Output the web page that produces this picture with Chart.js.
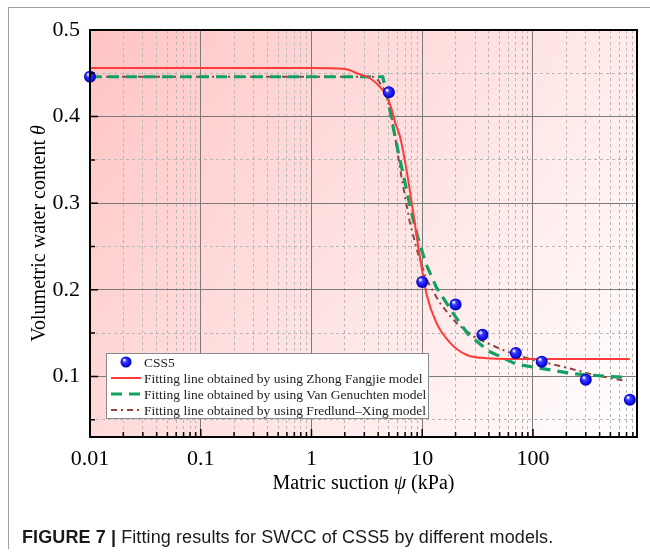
<!DOCTYPE html>
<html><head><meta charset="utf-8">
<script src="https://cdn.jsdelivr.net/npm/chart.js@4"></script>
<style>
html,body{margin:0;padding:0;background:#fff;}
#wrap{position:relative;width:650px;height:556px;overflow:hidden;}
canvas{position:absolute;left:0;top:0;}
#cap{position:absolute;left:22px;top:527px;font-family:"Liberation Sans",Arial,sans-serif;font-size:18px;letter-spacing:0.1px;color:#1a1a1a;white-space:nowrap;}
#frameL{position:absolute;left:8px;top:7px;width:1px;height:542px;background:#a0a0a0;}
#frameT{position:absolute;left:8px;top:7px;width:642px;height:1px;background:#a0a0a0;}
</style></head>
<body><div id="wrap"><canvas id="c" width="650" height="556"></canvas>
<div id="frameL"></div><div id="frameT"></div>
<div id="cap"><b>FIGURE 7 |</b> Fitting results for SWCC of CSS5 by different models.</div></div>
<script>
// ---- data ----
const suctionMeasured = [0.01, 5, 10, 20, 35, 70, 120, 300, 750];
const thetaMeasured   = [0.446, 0.428, 0.209, 0.183, 0.148, 0.127, 0.117, 0.096, 0.073];

const zhongX = [0.01, 1, 2, 2.7, 3.4, 4.1, 4.8, 5.3, 5.7, 6.3, 7.2, 8.3, 9.5, 11, 13.4, 17.8, 25, 38, 100, 750];
const zhongY = [0.456, 0.456, 0.455, 0.449, 0.444, 0.435, 0.423, 0.408, 0.393, 0.377, 0.339, 0.289, 0.239, 0.194, 0.162, 0.139, 0.125, 0.121, 0.120, 0.120];

const vgX = [0.01, 4.4, 4.9, 5.5, 6.1, 7.0, 7.9, 9.1, 10.8, 13.4, 18.5, 25.8, 40, 71, 151, 233, 471, 650];
const vgY = [0.446, 0.446, 0.420, 0.386, 0.358, 0.3235, 0.292, 0.261, 0.230, 0.203, 0.175, 0.149, 0.129, 0.114, 0.107, 0.103, 0.100, 0.099];

const fxX = [0.01, 3.6, 4.0, 4.6, 5.2, 5.8, 6.5, 7.7, 9, 10.9, 14.4, 17.8, 21, 30, 50, 70, 94, 175, 350, 700];
const fxY = [0.446, 0.446, 0.442, 0.430, 0.405, 0.370, 0.330, 0.279, 0.245, 0.212, 0.185, 0.170, 0.160, 0.145, 0.132, 0.125, 0.120, 0.112, 0.102, 0.0945];

const seriesLabels = ['CSS5',
  'Fitting line obtained by using Zhong Fangjie model',
  'Fitting line obtained by using Van Genuchten model',
  'Fitting line obtained by using Fredlund\u2013Xing model'];

const xTickValues = [0.01, 0.1, 1, 10, 100];
const xTickLabels = ['0.01', '0.1', '1', '10', '100'];
const yTickValues = [0.1, 0.2, 0.3, 0.4, 0.5];
const yTickLabels = ['0.1', '0.2', '0.3', '0.4', '0.5'];
const yMinorValues = [0.05, 0.15, 0.25, 0.35, 0.45];
const xMin = 0.01, xMax = 870, yMin = 0.03, yMax = 0.5;

// minor log positions (2..9 per decade)
const xMinorValues = [];
xTickValues.forEach(d => { for (let k = 2; k <= 9; k++) { const v = d * k; if (v <= xMax) xMinorValues.push(+v.toPrecision(3)); } });

const toXY = (xs, ys) => xs.map((x, i) => ({x: x, y: ys[i]}));
const SERIF = '"Liberation Serif","Times New Roman",serif';

function sphereGrad(c2d, px, py, r) {
  const g = c2d.createRadialGradient(px - r*0.35, py - r*0.4, r*0.1, px, py, r);
  g.addColorStop(0, '#f0f0ff');
  g.addColorStop(0.3, '#3a3aff');
  g.addColorStop(0.8, '#0a0ae0');
  g.addColorStop(1, '#00009a');
  return g;
}

const bgPlugin = {
  id: 'bg',
  beforeDraw(chart) {
    const {ctx, chartArea: a} = chart;
    const g = ctx.createLinearGradient(a.left, a.top, a.right, a.bottom);
    g.addColorStop(0, '#ffc4c4');
    g.addColorStop(0.5, '#ffe2e2');
    g.addColorStop(1, '#ffffff');
    ctx.save(); ctx.fillStyle = g;
    ctx.fillRect(a.left, a.top, a.right - a.left, a.bottom - a.top);
    ctx.restore();
  }
};

function drawSegments(ctx, segs, cx, cy) {
  let total = 0;
  segs.forEach(s => { ctx.font = s[1]; total += ctx.measureText(s[0]).width; });
  let x = cx - total / 2;
  segs.forEach(s => { ctx.font = s[1]; ctx.fillText(s[0], x, cy); x += ctx.measureText(s[0]).width; });
}

const decoPlugin = {
  id: 'deco',
  afterDraw(chart) {
    const {ctx, chartArea: a, scales} = chart;
    ctx.save();
    // inward ticks
    ctx.strokeStyle = '#000'; ctx.lineWidth = 1.5;
    ctx.beginPath();
    xTickValues.forEach(v => { const p = scales.x.getPixelForValue(v); ctx.moveTo(p, a.bottom); ctx.lineTo(p, a.bottom - 8); });
    xMinorValues.forEach(v => { const p = scales.x.getPixelForValue(v); ctx.moveTo(p, a.bottom); ctx.lineTo(p, a.bottom - 5); });
    yTickValues.forEach(v => { const p = scales.y.getPixelForValue(v); ctx.moveTo(a.left, p); ctx.lineTo(a.left + 8, p); });
    yMinorValues.forEach(v => { const p = scales.y.getPixelForValue(v); ctx.moveTo(a.left, p); ctx.lineTo(a.left + 5, p); });
    ctx.stroke();
    // frame
    ctx.lineWidth = 2;
    ctx.strokeRect(a.left, a.top, a.right - a.left, a.bottom - a.top);

    // axis titles
    ctx.fillStyle = '#000';
    ctx.textBaseline = 'alphabetic';
    drawSegments(ctx, [['Matric suction ', '20px ' + SERIF], ['\u03C8', 'italic 20px ' + SERIF], [' (kPa)', '20px ' + SERIF]], (a.left + a.right) / 2, 489);
    ctx.save();
    ctx.translate(45, (a.top + a.bottom) / 2);
    ctx.rotate(-Math.PI / 2);
    drawSegments(ctx, [['Volumetric water content ', '20px ' + SERIF], ['\u03B8', 'italic 20px ' + SERIF]], 0, 0);
    ctx.restore();

    // legend
    const L = {x: 106, y: 353, w: 322, h: 65};
    ctx.fillStyle = '#fff';
    ctx.fillRect(L.x, L.y, L.w, L.h);
    ctx.strokeStyle = '#8a8a8a'; ctx.lineWidth = 1;
    ctx.strokeRect(L.x + 0.5, L.y + 0.5, L.w, L.h);
    ctx.font = '13.5px ' + SERIF;
    ctx.textBaseline = 'middle';
    chart.data.datasets.forEach((ds, i) => {
      const yy = L.y + 9 + i * 16;
      if (i === 0) {
        ctx.beginPath(); ctx.fillStyle = sphereGrad(ctx, 126, yy, 5.5);
        ctx.arc(126, yy, 5.5, 0, Math.PI * 2); ctx.fill();
      } else {
        ctx.beginPath(); ctx.strokeStyle = ds.borderColor; ctx.lineWidth = ds.borderWidth;
        ctx.setLineDash(ds.borderDash || []);
        ctx.moveTo(111, yy); ctx.lineTo(141, yy); ctx.stroke(); ctx.setLineDash([]);
      }
      ctx.fillStyle = '#222';
      ctx.fillText(ds.label, 144, yy + 1);
    });
    ctx.restore();
  }
};

const chart = new Chart(document.getElementById('c'), {
  type: 'scatter',
  data: {
    datasets: [
      {label: seriesLabels[0], data: toXY(suctionMeasured, thetaMeasured), showLine: false,
       pointRadius: 6, pointBorderWidth: 0, clip: false,
       pointBackgroundColor: (c) => {
         const ch = c.chart;
         if (!c.parsed || !ch.scales || !ch.scales.x || !ch.scales.y) return '#1a1aff';
         const px = ch.scales.x.getPixelForValue(c.parsed.x), py = ch.scales.y.getPixelForValue(c.parsed.y);
         if (!isFinite(px) || !isFinite(py)) return '#1a1aff';
         return sphereGrad(ch.ctx, px, py, 6);
       }},
      {label: seriesLabels[1], data: toXY(zhongX, zhongY), showLine: true, borderColor: '#ff3a3a', borderWidth: 2,
       pointRadius: 0, cubicInterpolationMode: 'monotone'},
      {label: seriesLabels[2], data: toXY(vgX, vgY), showLine: true, borderColor: '#13a063', borderWidth: 3.2,
       borderDash: [11, 7], pointRadius: 0, tension: 0},
      {label: seriesLabels[3], data: toXY(fxX, fxY), showLine: true, borderColor: '#8c4646', borderWidth: 2,
       borderDash: [6, 4, 2, 4], pointRadius: 0, tension: 0}
    ]
  },
  options: {
    responsive: false, animation: false,
    layout: {padding: {top: 30, right: 13, bottom: 0, left: 0}},
    plugins: {legend: {display: false}, tooltip: {enabled: false}},
    scales: {
      xMinor: {type: 'logarithmic', position: 'bottom', min: xMin, max: xMax, z: -1,
        afterBuildTicks: s => { s.ticks = xMinorValues.map(v => ({value: v})); },
        afterFit: s => { s.height = 0; },
        ticks: {display: false}, border: {display: false, dash: [3, 3]},
        grid: {color: '#b8b8b8', lineWidth: 1, drawTicks: false}},
      yMinor: {type: 'linear', position: 'left', min: yMin, max: yMax, z: -1,
        afterBuildTicks: s => { s.ticks = yMinorValues.map(v => ({value: v})); },
        afterFit: s => { s.width = 0; },
        ticks: {display: false}, border: {display: false, dash: [3, 3]},
        grid: {color: '#b8b8b8', lineWidth: 1, drawTicks: false}},
      x: {type: 'logarithmic', position: 'bottom', min: xMin, max: xMax, z: 0,
        afterBuildTicks: s => { s.ticks = xTickValues.map(v => ({value: v})); },
        afterFit: s => { s.height = 119; },
        ticks: {callback: (v, i) => xTickLabels[i], autoSkip: false, maxRotation: 0, padding: 9,
                color: '#000', font: {family: SERIF, size: 22}},
        border: {display: false},
        grid: {color: '#7a7a7a', lineWidth: 1, drawTicks: false}},
      y: {type: 'linear', position: 'left', min: yMin, max: yMax, z: 0,
        afterBuildTicks: s => { s.ticks = yTickValues.map(v => ({value: v})); },
        afterFit: s => { s.width = 90; },
        ticks: {callback: (v, i) => yTickLabels[i], autoSkip: false, padding: 10,
                color: '#000', font: {family: SERIF, size: 22}},
        border: {display: false},
        grid: {color: '#7a7a7a', lineWidth: 1, drawTicks: false}}
    }
  },
  plugins: [bgPlugin, decoPlugin]
});
</script>
</body></html>
